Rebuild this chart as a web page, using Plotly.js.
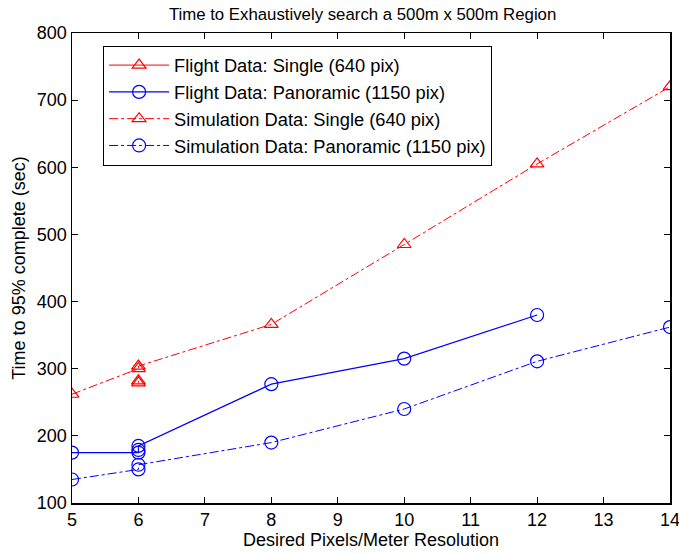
<!DOCTYPE html>
<html>
<head>
<meta charset="utf-8">
<script src="https://cdn.plot.ly/plotly-3.0.1.min.js"></script>
<style>html,body{margin:0;padding:0;background:#fff;}#chart{width:679px;height:554px;}</style>
</head>
<body>
<div id="chart"></div>
<script>
// Data
const flightSingleX = [6, 6];
const flightSingleY = [279, 282];
const flightPanoX = [5, 6, 6, 6, 8, 10, 12];
const flightPanoY = [175, 175, 179, 185, 277, 315, 380];
const simSingleX = [5, 6, 6, 8, 10, 12, 14];
const simSingleY = [262, 300, 304, 366, 485, 605, 720];
const simPanoX = [5, 6, 6, 8, 10, 12, 14];
const simPanoY = [135, 150, 157, 190, 240, 311, 362];
const seriesNames = [
  'Flight Data: Single (640 pix)',
  'Flight Data: Panoramic (1150 pix)',
  'Simulation Data: Single (640 pix)',
  'Simulation Data: Panoramic (1150 pix)'
];
const xTicks = [5, 6, 7, 8, 9, 10, 11, 12, 13, 14];
const yTicks = [100, 200, 300, 400, 500, 600, 700, 800];

const red = 'rgb(255,0,0)', blue = 'rgb(0,0,255)';
const tri = {symbol: 'triangle-up-open', size: 12, color: red, line: {width: 1.2, color: red}};
const circ = {symbol: 'circle-open', size: 13, color: blue, line: {width: 1.2, color: blue}};

const traces = [
  {x: flightSingleX, y: flightSingleY, name: seriesNames[0], mode: 'lines+markers',
   line: {color: red, width: 1}, marker: tri},
  {x: flightPanoX, y: flightPanoY, name: seriesNames[1], mode: 'lines+markers',
   line: {color: blue, width: 1.2}, marker: circ},
  {x: simSingleX, y: simSingleY, name: seriesNames[2], mode: 'lines+markers',
   line: {color: red, width: 1, dash: 'dashdot'}, marker: tri},
  {x: simPanoX, y: simPanoY, name: seriesNames[3], mode: 'lines+markers',
   line: {color: blue, width: 1, dash: 'dashdot'}, marker: circ}
];

const FONT = 'Liberation Sans, Arial, Helvetica, sans-serif';
const axisCommon = {
  showline: true, linecolor: '#000', linewidth: 1.5, mirror: 'ticks',
  ticks: 'inside', ticklen: 6, tickcolor: '#000', tickwidth: 1,
  showgrid: false, zeroline: false, ticklabeloverflow: 'allow',
  tickfont: {family: FONT, size: 18, color: '#000'}
};

const layout = {
  width: 679, height: 554,
  margin: {l: 72, r: 9, t: 33, b: 51},
  paper_bgcolor: '#fff', plot_bgcolor: '#fff',
  font: {family: FONT, color: '#000'},
  title: {text: 'Time to Exhaustively search a 500m x 500m Region',
          font: {size: 16.8, color: '#000'}, x: 0.534, xanchor: 'center', y: 0.975, yanchor: 'middle'},
  xaxis: Object.assign({}, axisCommon, {
    range: [5, 14], tickvals: xTicks, ticktext: xTicks.map(String),
    title: {text: 'Desired Pixels/Meter Resolution', font: {size: 18, color: '#000'}, standoff: 2}
  }),
  yaxis: Object.assign({}, axisCommon, {
    range: [100, 800], tickvals: yTicks, ticktext: yTicks.map(String),
    title: {text: 'Time to 95% complete (sec)', font: {size: 18, color: '#000'}, standoff: 6}
  }),
  showlegend: true,
  legend: {
    x: 0.052, y: 0.973, xanchor: 'left', yanchor: 'top',
    bgcolor: '#fff', bordercolor: '#000', borderwidth: 1,
    font: {size: 18.3, color: '#000'}, itemwidth: 60, tracegroupgap: 0
  }
};

Plotly.newPlot('chart', traces, layout, {staticPlot: true, displayModeBar: false});
</script>
</body>
</html>
